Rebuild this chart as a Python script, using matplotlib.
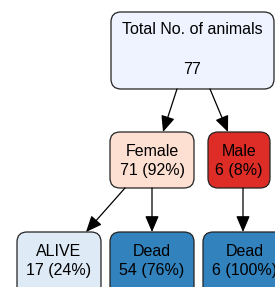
import matplotlib
matplotlib.use("Agg")
import matplotlib.pyplot as plt
from matplotlib.patches import FancyBboxPatch, FancyArrowPatch

# ---- data ----
node_names = ["Total No. of animals", "Female", "Male", "ALIVE", "Dead", "Dead"]
node_counts = [77, 71, 6, 17, 54, 6]
node_pcts = [None, 92, 8, 24, 76, 100]
node_colors = ["#eff3ff", "#fee0d2", "#de2d26", "#deebf7", "#3182bd", "#3182bd"]
edges = [(0, 1), (0, 2), (1, 3), (1, 4), (2, 5)]

# ---- layout (pixel coords: x0, y0, x1, y1) ----
boxes = [
    (111, 12, 274, 89),
    (110, 132, 194, 188),
    (208, 132, 270, 188),
    (17, 232, 101, 300),
    (110, 232, 194, 300),
    (203, 232, 287, 300),
]
edge_pts = [
    ((177, 89), (163, 132)),
    ((210, 89), (228, 132)),
    ((125, 188), (86, 232)),
    ((152, 188), (152, 232)),
    ((243, 188), (243, 232)),
]

W, H = 275, 287
fig = plt.figure(figsize=(W / 100, H / 100), dpi=100)
ax = fig.add_axes([0, 0, 1, 1])
ax.set_xlim(0, W)
ax.set_ylim(H, 0)
ax.axis("off")

font = dict(family=["Liberation Sans", "DejaVu Sans"], fontsize=11.5, color="#000000")

for i, (name, cnt, pct, col) in enumerate(zip(node_names, node_counts, node_pcts, node_colors)):
    x0, y0, x1, y1 = boxes[i]
    r = 10
    p = FancyBboxPatch((x0 + r, y0 + r), (x1 - x0) - 2 * r, (y1 - y0) - 2 * r,
                       boxstyle=f"round,pad={r},rounding_size={r}",
                       facecolor=col, edgecolor="#222222", linewidth=0.9)
    ax.add_patch(p)
    cx = (x0 + x1) / 2
    if pct is None:
        ax.text(cx, 30, name, ha="center", va="center", **font)
        ax.text(cx, 69, f"{cnt}", ha="center", va="center", **font)
    else:
        ty = y0 + 19
        ax.text(cx, ty, name, ha="center", va="center", **font)
        ax.text(cx, ty + 19, f"{cnt} ({pct}%)", ha="center", va="center", **font)

for (s, e), ((xa, ya), (xb, yb)) in zip(edges, edge_pts):
    a = FancyArrowPatch((xa, ya), (xb, yb), arrowstyle="-|>,head_length=0.7,head_width=0.3",
                        mutation_scale=14, color="black", linewidth=0.9,
                        shrinkA=0, shrinkB=0)
    ax.add_patch(a)

fig.savefig("out.png", dpi=100)
